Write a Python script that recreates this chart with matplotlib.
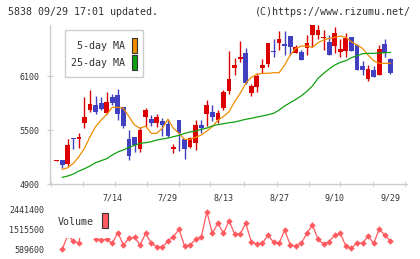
import numpy as np
import matplotlib
import matplotlib.pyplot as plt
from matplotlib.patches import Rectangle

matplotlib.use('Agg')

# daily candles (61 trading days)
opens = [5160, 5163, 5122, 5407, 5396, 5581, 5722, 5778, 5796, 5693,
         5870, 5889, 5752, 5400, 5418, 5293, 5648, 5622, 5574, 5600,
         5567, 5285, 5611, 5400, 5310, 5352, 5556, 5682, 5704, 5611,
         5750, 5933, 6193, 6289, 6352, 5915, 5981, 6193, 6233, 6378,
         6470, 6456, 6544, 6359, 6370, 6407, 6556, 6556, 6526, 6474,
         6433, 6367, 6381, 6530, 6444, 6211, 6070, 6167, 6111, 6456,
         6285]
highs = [5168, 5163, 5396, 5407, 5463, 5870, 5944, 5878, 5863, 5926,
         5900, 5956, 5760, 5500, 5426, 5530, 5741, 5667, 5678, 5637,
         5620, 5340, 5611, 5400, 5426, 5610, 5611, 5833, 5778, 5722,
         5944, 6378, 6296, 6489, 6407, 6011, 6130, 6285, 6463, 6507,
         6600, 6600, 6544, 6444, 6390, 6556, 6667, 6667, 6611, 6556,
         6648, 6511, 6574, 6530, 6456, 6270, 6219, 6211, 6444, 6511,
         6296]
lows = [5160, 5081, 5104, 5285, 5304, 5519, 5704, 5678, 5720, 5674,
        5780, 5611, 5519, 5167, 5259, 5259, 5537, 5544, 5537, 5430,
        5420, 5241, 5265, 5180, 5296, 5280, 5470, 5550, 5600, 5574,
        5722, 5900, 6111, 6259, 6011, 5878, 5926, 6130, 6204, 6315,
        6389, 6333, 6333, 6352, 6278, 6333, 6426, 6507, 6389, 6333,
        6359, 6307, 6307, 6381, 6167, 6111, 6044, 6093, 6111, 6315,
        6122]
closes = [5165, 5115, 5333, 5400, 5426, 5648, 5789, 5704, 5730, 5815,
          5796, 5674, 5544, 5215, 5333, 5500, 5722, 5574, 5648, 5556,
          5433, 5315, 5465, 5290, 5407, 5554, 5519, 5778, 5648, 5693,
          5926, 6067, 6222, 6307, 6019, 5989, 6104, 6222, 6463, 6370,
          6507, 6437, 6419, 6419, 6278, 6470, 6667, 6611, 6532, 6333,
          6574, 6396, 6519, 6381, 6167, 6167, 6174, 6093, 6400, 6352,
          6137]

# moving averages as drawn on the chart
ma5 = [np.nan, 5063, 5081, 5130, 5204, 5296, 5426, 5537, 5611, 5674,
       5752, 5752, 5741, 5648, 5556, 5519, 5544, 5463, 5463, 5519,
       5619, 5519, 5463, 5396, 5396, 5419, 5444, 5489, 5537, 5611,
       5650, 5704, 5815, 5907, 6019, 6085, 6119, 6130, 6130, 6137,
       6137, 6222, 6333, 6407, 6433, 6433, 6419, 6470, 6500, 6519,
       6530, 6544, 6530, 6481, 6444, 6407, 6333, 6270, 6241, 6241,
       6241]
ma25 = [np.nan, 4974, 4989, 5011, 5044, 5070, 5100, 5137, 5159, 5181,
        5222, 5256, 5278, 5307, 5330, 5352, 5359, 5370, 5389, 5400,
        5411, 5426, 5441, 5463, 5478, 5489, 5507, 5522, 5545, 5560,
        5570, 5581, 5589, 5604, 5619, 5630, 5644, 5656, 5670, 5685,
        5722, 5767, 5804, 5840, 5880, 5930, 5990, 6074, 6130, 6178,
        6222, 6252, 6270, 6304, 6326, 6348, 6352, 6352, 6356, 6359,
        6363]

# volume (c0 not drawn, c2/c5/c6 sit behind the legend box)
volume = [np.nan, 589600, 1250000, 973900, 867400, 2500000, 2400000,
          1066400, 1020000, 1052500, 867400, 1358100, 788700, 1098900,
          1145100, 788700, 1330300, 867400, 710000, 682200, 973900,
          1172900, 1515500, 742400, 788700, 1052500, 1145100, 2330300,
          1330300, 1793300, 1330300, 1913600, 1297900, 1297900, 1793300,
          941400, 834900, 867400, 1251600, 913700, 867400, 1483000,
          788700, 742400, 867400, 1330300, 1714600, 1052500, 834900,
          941400, 1251600, 1330300, 742400, 635900, 895000, 867400,
          1205300, 867400, 1515500, 1251600, 973900]

date_idx = [10, 20, 30, 40, 50, 60]
date_labels = ['7/14', '7/29', '8/13', '8/27', '9/10', '9/29']
price_ticks = [4900, 5500, 6100]
vol_ticks = [589600, 1515500, 2441400]

RED = '#dd0000'
BLUE = '#4040c0'
ORANGE = '#f08c00'
GREEN = '#10a010'
VOLC = '#ff5a5f'
GRAY = '#cccccc'
TXT = '#333333'
FONT = 'DejaVu Sans Mono'

W, H = 420, 259


def px(x, y):
    # pixel (from top-left) to figure fraction
    return x / W, 1 - y / H


fig = plt.figure(figsize=(W / 100, H / 100), dpi=100)
ax = fig.add_axes([50 / W, 1 - 184 / H, 357 / W, 159 / H])
axv = fig.add_axes([50 / W, 1 - 256 / H, 357 / W, 53 / H])

o = np.array(opens, float)
c = np.array(closes, float)
x = np.arange(len(o))
up = c >= o
cols = np.where(up, RED, BLUE)
bottom = np.minimum(o, c)
height = np.maximum(np.abs(c - o), 10)

ax.vlines(x, lows, highs, colors=cols, lw=1, zorder=2)
ax.bar(x, height, bottom=bottom, width=0.85, color=cols, lw=0, zorder=3)
ax.plot(x, ma5, color=ORANGE, lw=0.9, zorder=4)
ax.plot(x, ma25, color=GREEN, lw=0.9, zorder=4)

ax.set_xlim(-1.2, 63.0)
ax.set_ylim(4900, 6667)
for s in ['top', 'right']:
    ax.spines[s].set_visible(False)
for s in ['left', 'bottom']:
    ax.spines[s].set_color(GRAY)
    ax.spines[s].set_linewidth(1)

ax.set_yticks(price_ticks)
ax.set_yticklabels([str(t) for t in price_ticks], fontsize=6, family=FONT, color=TXT)
ax.tick_params(axis='y', direction='inout', length=4.8, color=GRAY, pad=5)
ax.set_xticks(date_idx)
ax.set_xticklabels(date_labels, fontsize=6, family=FONT, color=TXT)
ax.tick_params(axis='x', which='major', length=0, pad=6.5)
ax.set_xticks([-1.1, 4.7, 10.5, 16.2, 22.0, 27.6, 33.7, 39.6, 45.3, 51.0, 56.9, 62.6], minor=True)
ax.tick_params(axis='x', which='minor', direction='inout', length=4.8, color=GRAY)

# volume panel
axv.plot(x, volume, color=VOLC, lw=0.9, marker='D', ms=3.3, mew=0, mfc=VOLC)
axv.set_xlim(-1.2, 63.0)
axv.set_ylim(279400, 2733000)
for s in axv.spines.values():
    s.set_visible(False)
axv.set_xticks([])
axv.set_yticks(vol_ticks)
axv.set_yticklabels([str(t) for t in vol_ticks], fontsize=6, family=FONT, color=TXT)
axv.tick_params(axis='y', length=0, pad=4)

# price legend box
x0, y0 = px(65, 77)
fig.add_artist(Rectangle((x0, y0), 78 / W, 47 / H, transform=fig.transFigure,
                         facecolor='white', edgecolor=GRAY, lw=1, zorder=5))
fig.text(*px(125, 46), '5-day MA', ha='right', va='center', fontsize=7.2,
         family=FONT, color=TXT, zorder=6)
fig.text(*px(125, 63), '25-day MA', ha='right', va='center', fontsize=7.2,
         family=FONT, color=TXT, zorder=6)
for yy, col in [(52.5, ORANGE), (69.5, GREEN)]:
    fig.add_artist(Rectangle(px(131.5, yy), 5.5 / W, 15 / H, transform=fig.transFigure,
                             facecolor=col, edgecolor='#333333', lw=0.8, zorder=6))

# volume legend box (white, hides the line beneath)
fig.add_artist(Rectangle(px(55, 237.7), 57 / W, 34 / H, transform=fig.transFigure,
                         facecolor='white', edgecolor='none', zorder=5))
fig.text(*px(58, 222), 'Volume', ha='left', va='center', fontsize=7.2,
         family=FONT, color=TXT, zorder=6)
fig.add_artist(Rectangle(px(101.7, 228.3), 6 / W, 15 / H, transform=fig.transFigure,
                         facecolor=VOLC, edgecolor='#333333', lw=0.8, zorder=6))

# header
fig.text(*px(8, 12), '5838 09/29 17:01 updated.', ha='left', va='center',
         fontsize=7.2, family=FONT, color=TXT)
fig.text(*px(411, 12), '(C)https://www.rizumu.net/', ha='right', va='center',
         fontsize=7.2, family=FONT, color=TXT)

fig.savefig('out.png', dpi=100)
